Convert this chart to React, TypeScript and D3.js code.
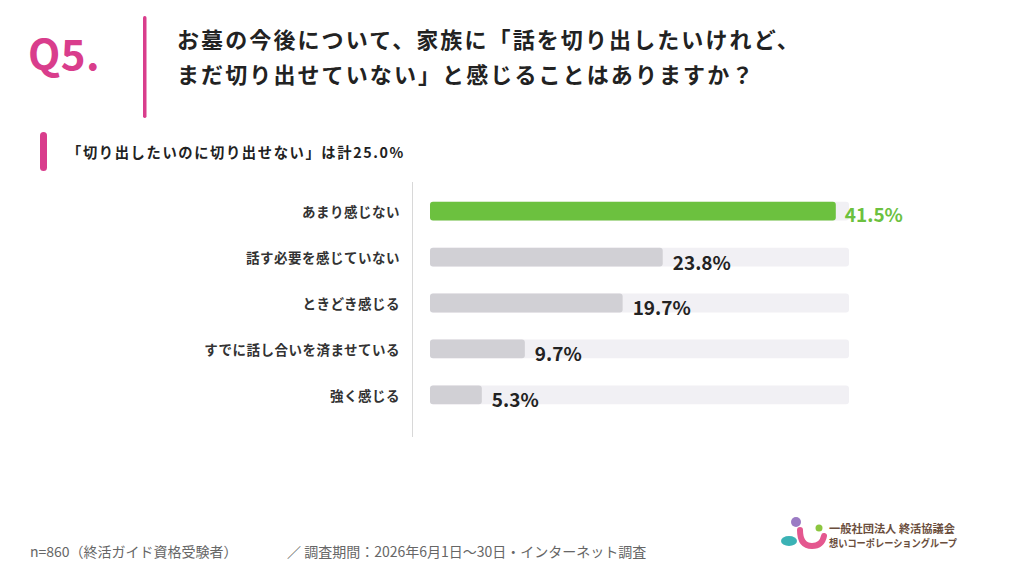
import * as React from "react";
import { scaleLinear, scaleBand } from "d3";

const categories = ["あまり感じない", "話す必要を感じていない", "ときどき感じる", "すでに話し合いを済ませている", "強く感じる"];
const values = [41.5, 23.8, 19.7, 9.7, 5.3];
const highlight = [true, false, false, false, false];

const titleLines = ["お墓の今後について、家族に「話を切り出したいけれど、", "まだ切り出せていない」と感じることはありますか？"];
const subtitle = "「切り出したいのに切り出せない」は計25.0%";
const footLeft = "n=860（終活ガイド資格受験者）";
const footRight = "／  調査期間：2026年6月1日〜30日・インターネット調査";
const logoLines = ["一般社団法人 終活協議会", "想いコーポレーショングループ"];

const FONT = "'Noto Sans CJK JP', 'Noto Sans', sans-serif";
const PINK = "#d93d8c";
const GREEN = "#6cc13f";

export default function App() {
    const x = scaleLinear().domain([0, 42.85]).range([430, 849]);
    const y = scaleBand().domain(categories).range([188, 418]).paddingInner(0.59).paddingOuter(0.3);
    const bh = y.bandwidth();

    return (
        <div style={{ position: "fixed", left: 0, top: 0, width: 1024, height: 576, background: "#fff" }}>
            <svg width={1024} height={576} style={{ display: "block", fontFamily: FONT }}>
                <rect x={0} y={0} width={1024} height={576} fill="#fff" />
                {/* header */}
                <text x={28} y={70} fill={PINK} fontSize={42} fontWeight={700} letterSpacing={0.5}>Q5.</text>
                <rect x={143} y={16} width={3.5} height={102} rx={1.7} fill={PINK} />
                {titleLines.map((t, i) => (
                    <text key={i} x={177} y={48 + i * 35} fill="#222" fontSize={22} fontWeight={700} letterSpacing={2.1}>{t}</text>
                ))}
                <rect x={40} y={132} width={7} height={39} rx={3.5} fill={PINK} />
                <text x={67} y={158} fill="#222" fontSize={14.3} fontWeight={700} letterSpacing={1.6}>{subtitle}</text>

                {/* axis line */}
                <line x1={412.5} x2={412.5} y1={182} y2={437} stroke="#d8d8d8" strokeWidth={1} />

                {categories.map((c, i) => {
                    const yy = y(c);
                    const hi = highlight[i];
                    return (
                        <g key={c}>
                            <text x={400} y={yy + bh / 2 + 6} textAnchor="end" fill="#333" fontSize={13.5} fontWeight={700} letterSpacing={0.5}>{c}</text>
                            <rect x={x(0)} y={yy} width={x.range()[1] - x(0)} height={bh} rx={3} fill="#f1f0f4" />
                            <rect x={x(0)} y={yy} width={x(values[i]) - x(0)} height={bh} rx={3} fill={hi ? GREEN : "#d1d0d5"} />
                            <text
                                x={hi ? x(values[i]) + 9 : x(values[i]) + 10}
                                y={hi ? yy + bh + 1 : yy + bh + 3}
                                fill={hi ? GREEN : "#222"}
                                fontSize={19}
                                fontWeight={700}
                            >{values[i].toFixed(1)}%</text>
                        </g>
                    );
                })}

                {/* footer */}
                <text x={30} y={557} fill="#666" fontSize={14}>{footLeft}</text>
                <text x={287} y={557} fill="#666" fontSize={14}>{footRight}</text>

                {/* logo */}
                <circle cx={796} cy={522} r={5} fill="#9b7bc4" />
                <path d="M 800 530 Q 800 546 812 546 Q 822 546 824 536" fill="none" stroke="#e4578f" strokeWidth={6} strokeLinecap="round" />
                <ellipse cx={789} cy={541} rx={8} ry={5} fill="#3bb2b5" />
                <circle cx={819} cy={528} r={3.5} fill="#8cc63f" />
                <text x={829} y={533} fill="#6b4e3d" fontSize={11} fontWeight={700} textLength={126} lengthAdjust="spacingAndGlyphs">{logoLines[0]}</text>
                <text x={829} y={547} fill="#6b4e3d" fontSize={10.5} fontWeight={700} textLength={128} lengthAdjust="spacingAndGlyphs">{logoLines[1]}</text>
            </svg>
        </div>
    );
}
